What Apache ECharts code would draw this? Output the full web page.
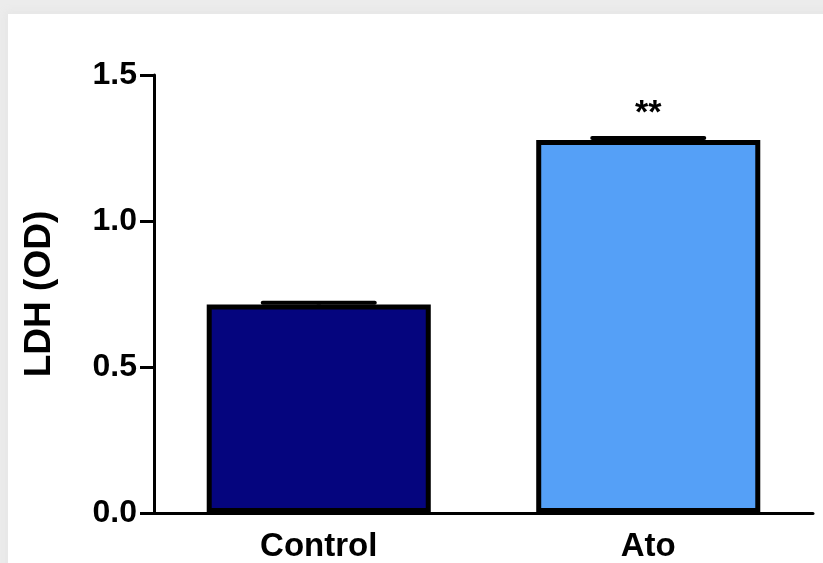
<!DOCTYPE html>
<html><head><meta charset="utf-8">
<script src="https://cdn.jsdelivr.net/npm/echarts@6/dist/echarts.min.js"></script>
<style>
html,body{margin:0;padding:0;width:823px;height:563px;overflow:hidden;background:#ececec;}
#card{position:absolute;left:8px;top:14px;width:830px;height:560px;background:#fff;box-shadow:0 0 8px 3px #e6e6e6;}
#chart{position:absolute;left:0;top:0;width:823px;height:563px;}
</style></head>
<body>
<div id="card"></div>
<div id="chart"></div>
<script>
var categories = ['Control', 'Ato'];
var meanValues = [0.714, 1.277];
var semValues = [0.006, 0.007];
var significance = ['', '**'];
var barColors = ['#05057e', '#55a0f7'];
var yTicks = [0, 0.5, 1.0, 1.5];

var chart = echarts.init(document.getElementById('chart'), null, {renderer: 'canvas'});
var font = 'Liberation Sans, Arial, sans-serif';
chart.setOption({
  backgroundColor: 'transparent',
  animation: false,
  grid: {left: 154, right: 10, top: 75, bottom: 47},
  xAxis: {
    type: 'category',
    data: categories,
    axisLine: {lineStyle: {color: '#000', width: 3}},
    axisTick: {alignWithLabel: true, length: 12, lineStyle: {color: '#000', width: 3}},
    axisLabel: {color: '#000', fontFamily: font, fontWeight: 'bold', fontSize: 33, margin: 17}
  },
  yAxis: {
    type: 'value', min: 0, max: 1.5, interval: 0.5,
    name: 'LDH (OD)', nameLocation: 'middle', nameGap: 96,
    nameTextStyle: {color: '#000', fontFamily: font, fontWeight: 'bold', fontSize: 37},
    axisLine: {show: true, lineStyle: {color: '#000', width: 3}},
    axisTick: {show: true, length: 14, lineStyle: {color: '#000', width: 3}},
    splitLine: {show: false},
    axisLabel: {color: '#000', fontFamily: font, fontWeight: 'bold', fontSize: 32, margin: 17,
      formatter: function (v) { return v.toFixed(1); }}
  },
  series: [{
    type: 'bar',
    barWidth: '68%',
    data: meanValues.map(function (v, i) {
      return {value: v, itemStyle: {color: barColors[i], borderColor: '#000', borderWidth: 5}};
    }),
    label: {
      show: true, position: 'top', distance: 9,
      formatter: function (p) { return significance[p.dataIndex]; },
      color: '#000', fontFamily: font, fontWeight: 'bold', fontSize: 34
    },
    z: 2
  }, {
    type: 'custom',
    data: meanValues.map(function (v, i) { return [i, v, semValues[i]]; }),
    renderItem: function (params, api) {
      var x = api.value(0), m = api.value(1), s = api.value(2);
      var top = api.coord([x, m + s]);
      var base = api.coord([x, m]);
      var half = api.size([1, 0])[0] * 0.17;
      return {
        type: 'group',
        children: [
          {type: 'line', shape: {x1: top[0], y1: top[1], x2: top[0], y2: base[1]}, style: {stroke: '#000', lineWidth: 4}},
          {type: 'line', shape: {x1: top[0] - half, y1: top[1], x2: top[0] + half, y2: top[1]}, style: {stroke: '#000', lineWidth: 4, lineCap: 'round'}}
        ]
      };
    },
    z: 3
  }]
});
</script>
</body></html>
